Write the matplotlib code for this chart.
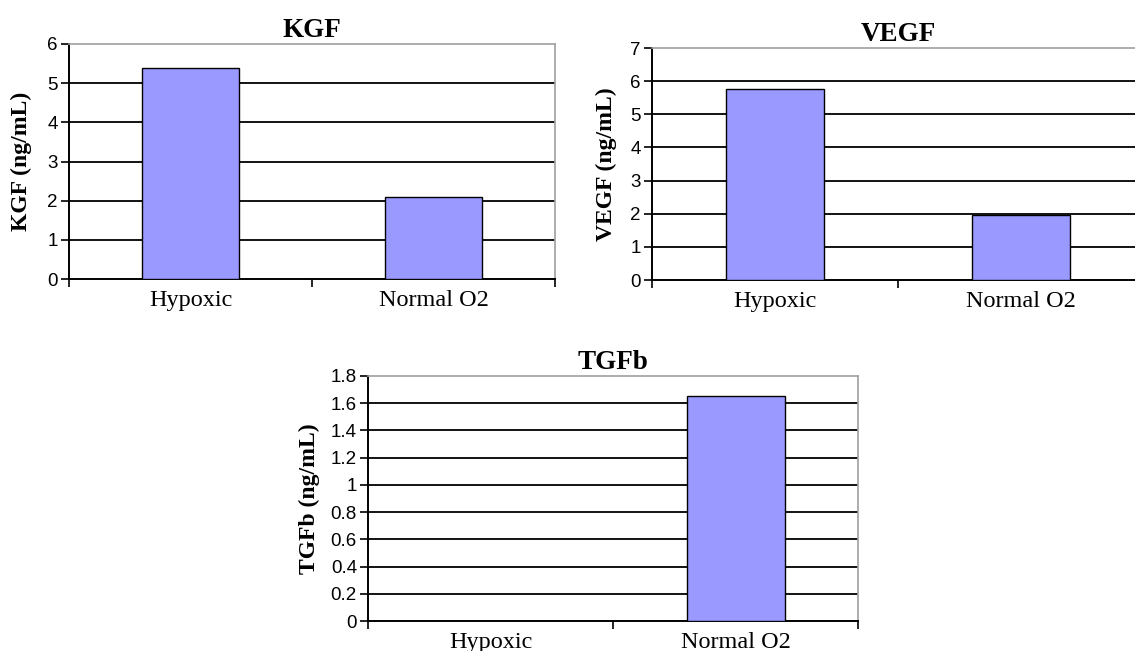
import numpy as np
import matplotlib
matplotlib.use("Agg")
import matplotlib.pyplot as plt

# datos
categorias = ["Hypoxic", "Normal O2"]
kgf = [5.4, 2.1]
vegf = [5.75, 1.97]
tgfb = [0.0, 1.65]

kgf_ticks = [0, 1, 2, 3, 4, 5, 6]
vegf_ticks = [0, 1, 2, 3, 4, 5, 6, 7]
tgfb_ticks = [0, 0.2, 0.4, 0.6, 0.8, 1, 1.2, 1.4, 1.6, 1.8]
tgfb_labels = ["0", "0.2", "0.4", "0.6", "0.8", "1", "1.2", "1.4", "1.6", "1.8"]

serif = "Liberation Serif"
sans = "Liberation Sans"
color_barra = "#9999ff"

fig = plt.figure(figsize=(11.35, 6.51), dpi=100)


def panel(rect, valores, titulo, ylabel, yticks, ylabels, label_x):
    ax = fig.add_axes(rect)
    x = np.arange(len(valores)) + 0.5
    ax.bar(x, valores, width=0.4, color=color_barra, edgecolor="black",
           linewidth=1.0, zorder=3)
    ax.set_xlim(0, len(valores))
    ax.set_ylim(yticks[0], yticks[-1])

    # grilla horizontal negra
    for t in yticks[1:-1]:
        ax.axhline(t, color="black", linewidth=1.3, zorder=1)

    ax.set_yticks(yticks)
    ax.set_yticklabels(ylabels, fontfamily=sans, fontsize=13.5)
    ax.tick_params(axis="y", direction="out", length=6, width=1.2, pad=2,
                   colors="black")

    ax.set_xticks(x)
    ax.set_xticklabels(categorias, fontfamily=serif, fontsize=17.5)
    ax.tick_params(axis="x", which="major", length=0, pad=8)
    ax.set_xticks(np.arange(len(valores) + 1), minor=True)
    ax.tick_params(axis="x", which="minor", direction="out", length=6,
                   width=1.2)

    for s in ["left", "bottom"]:
        ax.spines[s].set_color("black")
        ax.spines[s].set_linewidth(1.4)
    for s in ["top", "right"]:
        ax.spines[s].set_color("#a0a0a0")
        ax.spines[s].set_linewidth(1.2)

    ax.set_title(titulo, fontfamily=serif, fontweight="bold", fontsize=19.5,
                 pad=5)
    ax.set_ylabel(ylabel, fontfamily=serif, fontweight="bold", fontsize=17)
    ax.yaxis.set_label_coords(label_x, 0.5)
    return ax


W, H = 1135.0, 651.0
panel([69 / W, 1 - 279 / H, 486 / W, 235 / H], kgf, "KGF", "KGF (ng/mL)",
      kgf_ticks, [str(t) for t in kgf_ticks], -0.076)
panel([652 / W, 1 - 280 / H, 492 / W, 232 / H], vegf, "VEGF", "VEGF (ng/mL)",
      vegf_ticks, [str(t) for t in vegf_ticks], -0.071)
panel([368 / W, 1 - 621 / H, 490 / W, 245 / H], tgfb, "TGFb", "TGFb (ng/mL)",
      tgfb_ticks, tgfb_labels, -0.098)

fig.savefig("out.png", dpi=100, facecolor="white")
